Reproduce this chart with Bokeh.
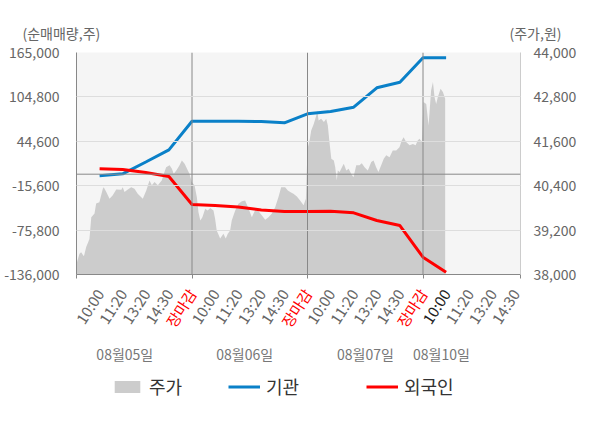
from bokeh.plotting import figure
from bokeh.layouts import column, row
from bokeh.models import (Range1d, LinearAxis, FixedTicker, NumeralTickFormatter,
                          Span, Legend, LegendItem)
from bokeh.core.properties import value
from bokeh.embed import file_html
from bokeh.resources import INLINE

FONT = "Noto Sans CJK KR"

# ---- x axis: slot positions (each trading day = 5 slots) ----
slot_labels = ["10:00", "11:20", "13:20", "14:30", "장마감"] * 3 + ["10:00", "11:20", "13:20", "14:30"]
slot_pos = list(range(1, 20))
slot_colors = (["#666666"] * 4 + ["#ff0000"]) * 3 + ["#222222"] + ["#666666"] * 3
day_labels = ["08월05일", "08월06일", "08월07일", "08월10일"]
day_label_pos = [2.09, 7.28, 12.51, 15.8]
day_bounds = [5, 10, 15]
x_end = 19.22

# ---- left axis: net buying volume (shares) ----
left_ticks = [-136000, -75800, -15600, 44600, 104800, 165000]
flow_x = list(range(1, 17))
inst = [-2000, 500, 16500, 33000, 71800, 71800, 71800, 71500, 69700,
        81900, 85000, 90800, 117100, 124700, 157800, 157800]
foreign = [7300, 6400, 2200, -3200, -41100, -42450, -44500, -48550, -50600,
           -50600, -50200, -52350, -62800, -69600, -112600, -132900]

# ---- right axis: stock price (won) ----
right_ticks = [38000, 39200, 40400, 41600, 42800, 44000]
price_base = 38000
price_t = [0.00, 0.13, 0.20, 0.32, 0.42, 0.56, 0.64, 0.78, 0.85, 0.99,
           1.14, 1.18, 1.29, 1.43, 1.57, 1.72, 1.94, 2.00, 2.08, 2.22,
           2.37, 2.51, 2.65, 2.87, 3.02, 3.16, 3.26, 3.38, 3.52, 3.69,
           3.78, 3.88, 4.03, 4.13, 4.21, 4.32, 4.46, 4.56, 4.68, 4.82,
           4.89, 4.99,
           5.11, 5.21, 5.28, 5.36, 5.45, 5.57, 5.68, 5.79, 5.93, 6.00,
           6.07, 6.22, 6.36, 6.46, 6.55, 6.65, 6.72, 6.87, 7.01, 7.16,
           7.30, 7.45, 7.59, 7.74, 7.88, 8.02, 8.17, 8.31, 8.45, 8.60,
           8.74, 8.86, 9.03, 9.15, 9.25, 9.39, 9.54, 9.68, 9.83, 9.93,
           10.00, 10.09, 10.16, 10.27, 10.38, 10.42, 10.48, 10.59, 10.71, 10.81,
           10.88, 10.95, 11.03, 11.14, 11.20, 11.27, 11.31, 11.39, 11.49, 11.57,
           11.68, 11.78, 11.89, 11.99, 12.11, 12.25, 12.35, 12.47, 12.61, 12.76,
           12.86, 12.97, 13.07, 13.19, 13.30, 13.41, 13.55, 13.69, 13.84, 13.98,
           14.08, 14.16, 14.27, 14.42, 14.56, 14.68, 14.77, 14.85, 14.95,
           15.02, 15.14, 15.24, 15.35, 15.43, 15.50, 15.57, 15.64, 15.76, 15.86,
           15.96]
price = [38290, 38560, 38600, 38490, 38740, 38960, 39550, 39650, 39920, 39950,
         40320, 40360, 40230, 40050, 40140, 40300, 40290, 40360, 40230, 40300,
         40360, 40320, 40180, 40050, 40270, 40540, 40410, 40500, 40410, 40540,
         40720, 40900, 40950, 40860, 40720, 40810, 40950, 41080, 40990, 40810,
         40720, 40500,
         40410, 40090, 39680, 39460, 39550, 39780, 39730, 39800, 39730, 39510,
         39190, 38970, 39100, 38970, 39100, 39190, 39460, 39730, 39910, 39980,
         40000, 39780, 39550, 39750, 39710, 39600, 39480, 39550, 39640, 39820,
         40090, 40360, 40360, 40270, 40230, 40180, 40110, 40000, 39870, 40050,
         41400, 41620, 41890, 42070, 42300, 42430, 42160, 42210, 42120, 42210,
         42030, 41580, 41130, 41080, 40900, 40540, 40810, 40770, 40900, 40990,
         40810, 40860, 40720, 40630, 40950, 40950, 41010, 40900, 40810, 41040,
         41080, 40900, 40770, 40950, 41130, 41220, 41170, 41350, 41350, 41440,
         41620, 41710, 41580, 41490, 41530, 41490, 41620, 41670, 41580,
         42660, 42610, 42030, 42970, 43200, 42790, 42610, 42790, 43020, 42930,
         42750]

legend_labels = ["주가", "기관", "외국인"]
area_color, inst_color, foreign_color = "#cccccc", "#0a80c8", "#ff0000"

# ---- layout geometry (pixels) ----
W = 600
BL, BR = 76, 80          # left / right border of the main frame
FH = 222                 # main frame height
TOP_H = 42               # strip above main figure (axis titles)
MAIN_T, MAIN_B = 10, 10  # main figure top / bottom borders
BOT_H = 142              # strip below main figure (labels + legend)
FW = W - BL - BR


def strip(height, x_range, y_range):
    f = figure(width=W, height=height, x_range=x_range, y_range=y_range,
               x_axis_location=None, y_axis_location=None,
               min_border=0, min_border_left=0, min_border_right=0,
               min_border_top=0, min_border_bottom=0,
               output_backend="svg", toolbar_location=None)
    f.xgrid.grid_line_color = None
    f.ygrid.grid_line_color = None
    f.outline_line_color = None
    f.background_fill_color = "white"
    f.border_fill_color = "white"
    return f


# ---- top strip: axis titles ----
ptop = strip(TOP_H, Range1d(0, W), Range1d(0, TOP_H))
ptop.text(x=[22, 509], y=[10, 10], text=["(순매매량,주)", "(주가,원)"],
          text_font=value(FONT), text_font_size="14px", text_color="#666666",
          text_align="left", text_baseline="middle")

# ---- main figure ----
p = figure(width=W, height=MAIN_T + FH + MAIN_B,
           x_range=Range1d(0, x_end), y_range=Range1d(left_ticks[0], left_ticks[-1]),
           output_backend="svg", toolbar_location=None,
           min_border_left=BL, min_border_right=BR, min_border_top=MAIN_T,
           min_border_bottom=MAIN_B)
p.extra_y_ranges = {"price": Range1d(right_ticks[0], right_ticks[-1])}
p.background_fill_color = "#f5f5f5"
p.border_fill_color = "white"
p.outline_line_color = None

area = p.varea(x=price_t, y1=price_base, y2=price, y_range_name="price",
               fill_color=area_color)
p.line(flow_x, inst, line_color=inst_color, line_width=3)
p.line(flow_x, foreign, line_color=foreign_color, line_width=3)

xt = [0] + day_bounds + [x_end]
p.xaxis.ticker = FixedTicker(ticks=xt)
p.xaxis.major_label_overrides = {t: "" for t in xt}
p.xaxis.major_label_standoff = 0
p.xaxis.axis_line_color = "#888888"
p.xaxis.major_tick_line_color = "#888888"
p.xaxis.major_tick_out = 4
p.xaxis.major_tick_in = 0
p.xaxis.minor_tick_line_color = None

p.yaxis.ticker = FixedTicker(ticks=left_ticks)
p.yaxis.formatter = NumeralTickFormatter(format="0,0")
p.yaxis.axis_line_color = "#888888"
p.yaxis.major_tick_line_color = None
p.yaxis.minor_tick_line_color = None
p.yaxis.major_label_standoff = 11
p.yaxis.major_label_text_font = FONT
p.yaxis.major_label_text_font_size = "14px"
p.yaxis.major_label_text_color = "#666666"

raxis = LinearAxis(y_range_name="price", ticker=FixedTicker(ticks=right_ticks),
                   formatter=NumeralTickFormatter(format="0,0"))
raxis.axis_line_color = "#cccccc"
raxis.major_tick_line_color = None
raxis.minor_tick_line_color = None
raxis.major_label_standoff = 7
raxis.major_label_text_font = FONT
raxis.major_label_text_font_size = "14px"
raxis.major_label_text_color = "#666666"
p.add_layout(raxis, "right")

p.xgrid.grid_line_color = None
p.ygrid.ticker = FixedTicker(ticks=left_ticks)
p.ygrid.grid_line_color = "#dddddd"
p.ygrid.level = "overlay"

p.add_layout(Span(location=0, dimension="width", line_color="#888888", line_width=1))
for b in day_bounds:
    p.add_layout(Span(location=b, dimension="height", line_color="#888888", line_width=1))

# ---- bottom strip: slot labels, day labels, legend (same x scale as main) ----
unit = FW / x_end
pbot = strip(BOT_H, Range1d(-BL / unit, x_end + BR / unit), Range1d(0, BOT_H))
pbot.text(x=slot_pos, y=[BOT_H - 6] * len(slot_pos), text=slot_labels,
          text_color=slot_colors, angle=57, angle_units="deg", x_offset=0,
          text_align="right", text_baseline="middle",
          text_font=value(FONT), text_font_size="15px")
pbot.text(x=day_label_pos, y=[BOT_H - 69] * len(day_label_pos), text=day_labels,
          text_align="center", text_baseline="middle", text_color="#777777",
          text_font=value(FONT), text_font_size="14px")

# legend swatches: renderers that carry the series styles but draw nothing
nan = float("nan")
lg_area = pbot.varea(x=[0, 1], y1=[nan, nan], y2=[nan, nan], fill_color=area_color)
lg_inst = pbot.line(x=[0, 1], y=[nan, nan], line_color=inst_color, line_width=3)
lg_for = pbot.line(x=[0, 1], y=[nan, nan], line_color=foreign_color, line_width=3)
for lab, rend, lx in zip(legend_labels, [lg_area, lg_inst, lg_for], [111, 228, 366]):
    lg = Legend(items=[LegendItem(label=lab, renderers=[rend])], location=(lx, 27),
                orientation="horizontal", glyph_width=32, glyph_height=15,
                label_height=15, label_standoff=6, padding=0, margin=0, spacing=0,
                border_line_color=None, background_fill_alpha=0,
                label_text_font=FONT, label_text_font_size="18px",
                label_text_color="#333333", label_text_baseline="middle")
    pbot.add_layout(lg)

layout = column(ptop, row(p), pbot, spacing=0)
open("out.html", "w").write(file_html(layout, INLINE))
